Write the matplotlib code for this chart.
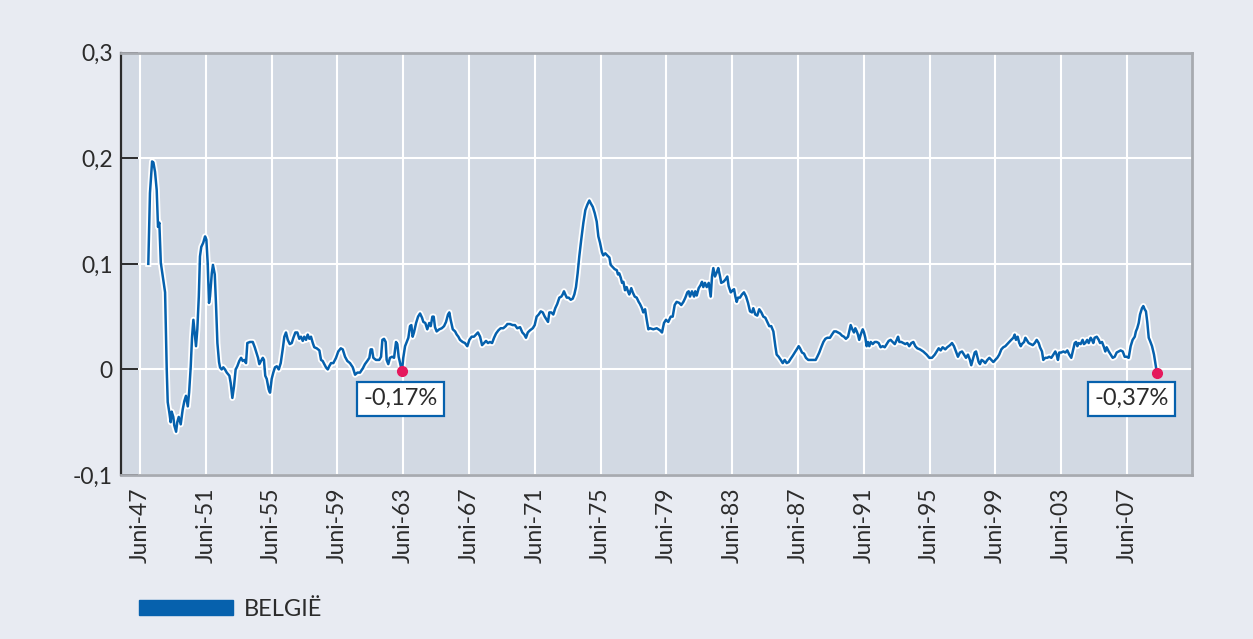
import matplotlib
matplotlib.use("Agg")
import matplotlib.pyplot as plt
import matplotlib.patheffects as pe
from matplotlib.patches import Patch

plt.rcParams['font.family'] = ['Lato', 'DejaVu Sans']

# series: decimal years (June = .417), fraction
dates = [
    1947.92, 1948.02, 1948.15, 1948.23, 1948.33, 1948.43, 1948.51, 1948.59, 1948.68, 1948.83,
    1948.94, 1949.04, 1949.10, 1949.20, 1949.28, 1949.34, 1949.44, 1949.50, 1949.61, 1949.68,
    1949.77, 1949.89, 1950.01, 1950.11, 1950.21, 1950.32, 1950.40, 1950.50, 1950.58, 1950.66,
    1950.74, 1950.82, 1950.90, 1950.99, 1951.06, 1951.14, 1951.26, 1951.37, 1951.45, 1951.53,
    1951.61, 1951.67, 1951.78, 1951.85, 1951.96, 1952.04, 1952.12, 1952.22, 1952.28, 1952.38,
    1952.48, 1952.58, 1952.69, 1952.85, 1952.93, 1953.03, 1953.13, 1953.23, 1953.33, 1953.45,
    1953.56, 1953.66, 1953.76, 1953.86, 1953.94, 1954.10, 1954.27, 1954.39, 1954.49, 1954.59,
    1954.67, 1954.77, 1954.88, 1954.95, 1955.03, 1955.12, 1955.24, 1955.32, 1955.42, 1955.52,
    1955.62, 1955.73, 1955.85, 1955.97, 1956.09, 1956.19, 1956.29, 1956.40, 1956.52, 1956.64,
    1956.74, 1956.86, 1956.98, 1957.10, 1957.20, 1957.31, 1957.40, 1957.51, 1957.61, 1957.71,
    1957.81, 1957.92, 1958.01, 1958.16, 1958.32, 1958.42, 1958.52, 1958.62, 1958.72, 1958.83,
    1958.92, 1959.03, 1959.17, 1959.33, 1959.47, 1959.62, 1959.74, 1959.88, 1960.02, 1960.18,
    1960.35, 1960.49, 1960.63, 1960.79, 1960.96, 1961.09, 1961.23, 1961.36, 1961.44, 1961.52,
    1961.60, 1961.76, 1961.96, 1962.07, 1962.15, 1962.25, 1962.35, 1962.41, 1962.51, 1962.61,
    1962.74, 1962.86, 1962.98, 1963.06, 1963.14, 1963.34, 1963.42, 1963.53, 1963.63, 1963.73,
    1963.83, 1963.91, 1963.99, 1964.07, 1964.20, 1964.32, 1964.44, 1964.56, 1964.64, 1964.76,
    1964.88, 1965.00, 1965.09, 1965.19, 1965.27, 1965.35, 1965.45, 1965.61, 1965.76, 1965.90,
    1966.02, 1966.14, 1966.22, 1966.30, 1966.43, 1966.57, 1966.67, 1966.77, 1966.87, 1967.03,
    1967.17, 1967.31, 1967.44, 1967.58, 1967.72, 1967.84, 1967.96, 1968.09, 1968.21, 1968.33,
    1968.45, 1968.57, 1968.69, 1968.82, 1968.94, 1969.06, 1969.20, 1969.34, 1969.50, 1969.65,
    1969.75, 1969.91, 1970.07, 1970.21, 1970.35, 1970.52, 1970.66, 1970.78, 1970.88, 1970.99,
    1971.12, 1971.29, 1971.41, 1971.53, 1971.65, 1971.78, 1971.90, 1972.02, 1972.14, 1972.22,
    1972.30, 1972.42, 1972.54, 1972.66, 1972.78, 1972.91, 1973.03, 1973.11, 1973.19, 1973.27,
    1973.36, 1973.48, 1973.60, 1973.72, 1973.82, 1973.92, 1974.02, 1974.12, 1974.24, 1974.37,
    1974.49, 1974.61, 1974.73, 1974.83, 1974.94, 1975.06, 1975.18, 1975.28, 1975.38, 1975.50,
    1975.58, 1975.70, 1975.82, 1975.95, 1976.03, 1976.15, 1976.27, 1976.40, 1976.47, 1976.55,
    1976.64, 1976.72, 1976.80, 1976.90, 1977.00, 1977.08, 1977.16, 1977.28, 1977.37, 1977.49,
    1977.61, 1977.73, 1977.81, 1977.93, 1978.01, 1978.12, 1978.22, 1978.32, 1978.42, 1978.62,
    1978.83, 1979.03, 1979.15, 1979.27, 1979.39, 1979.53, 1979.68, 1979.80, 1979.92, 1980.04,
    1980.20, 1980.32, 1980.45, 1980.57, 1980.69, 1980.77, 1980.85, 1980.97, 1981.10, 1981.17,
    1981.26, 1981.38, 1981.50, 1981.58, 1981.66, 1981.76, 1981.87, 1981.99, 1982.11, 1982.19,
    1982.27, 1982.37, 1982.48, 1982.57, 1982.68, 1982.75, 1982.88, 1983.00, 1983.12, 1983.20,
    1983.33, 1983.45, 1983.53, 1983.61, 1983.69, 1983.77, 1983.89, 1984.01, 1984.13, 1984.26,
    1984.38, 1984.50, 1984.62, 1984.70, 1984.82, 1984.94, 1985.06, 1985.19, 1985.31, 1985.43,
    1985.55, 1985.67, 1985.79, 1985.92, 1986.04, 1986.12, 1986.24, 1986.37, 1986.49, 1986.61,
    1986.73, 1986.85, 1986.97, 1987.10, 1987.22, 1987.34, 1987.46, 1987.54, 1987.66, 1987.78,
    1987.90, 1988.04, 1988.19, 1988.35, 1988.49, 1988.59, 1988.71, 1988.83, 1988.96, 1989.08,
    1989.20, 1989.36, 1989.48, 1989.61, 1989.73, 1989.85, 1989.97, 1990.09, 1990.21, 1990.33,
    1990.46, 1990.53, 1990.62, 1990.72, 1990.82, 1990.90, 1990.99, 1991.06, 1991.14, 1991.23,
    1991.35, 1991.43, 1991.51, 1991.59, 1991.67, 1991.75, 1991.84, 1991.96, 1992.08, 1992.20,
    1992.32, 1992.44, 1992.57, 1992.69, 1992.81, 1992.93, 1993.05, 1993.17, 1993.30, 1993.42,
    1993.50, 1993.58, 1993.70, 1993.82, 1993.94, 1994.06, 1994.18, 1994.31, 1994.43, 1994.55,
    1994.67, 1994.83, 1995.03, 1995.24, 1995.40, 1995.56, 1995.73, 1995.85, 1995.97, 1996.09,
    1996.21, 1996.37, 1996.49, 1996.66, 1996.78, 1996.90, 1997.02, 1997.14, 1997.26, 1997.39,
    1997.51, 1997.63, 1997.75, 1997.87, 1997.95, 1998.07, 1998.16, 1998.24, 1998.32, 1998.40,
    1998.48, 1998.58, 1998.68, 1998.80, 1998.93, 1999.05, 1999.17, 1999.29, 1999.41, 1999.53,
    1999.65, 1999.78, 1999.90, 2000.02, 2000.14, 2000.26, 2000.38, 2000.51, 2000.59, 2000.67,
    2000.77, 2000.87, 2000.96, 2001.03, 2001.16, 2001.24, 2001.32, 2001.44, 2001.56, 2001.69,
    2001.81, 2001.93, 2002.05, 2002.13, 2002.25, 2002.33, 2002.45, 2002.57, 2002.69, 2002.82,
    2002.94, 2003.06, 2003.14, 2003.22, 2003.30, 2003.42, 2003.55, 2003.67, 2003.79, 2003.91,
    2004.03, 2004.15, 2004.24, 2004.32, 2004.40, 2004.48, 2004.60, 2004.72, 2004.80, 2004.88,
    2005.00, 2005.09, 2005.21, 2005.29, 2005.37, 2005.45, 2005.58, 2005.70, 2005.78, 2005.90,
    2006.02, 2006.10, 2006.18, 2006.31, 2006.43, 2006.55, 2006.67, 2006.79, 2006.91, 2007.03,
    2007.16, 2007.28, 2007.40, 2007.52, 2007.64, 2007.76, 2007.89, 2007.96, 2008.04, 2008.13,
    2008.21, 2008.33, 2008.41, 2008.49, 2008.57, 2008.65, 2008.74, 2008.82, 2008.94, 2009.06,
    2009.14, 2009.24,
]
belgie = [
    0.100, 0.167, 0.197, 0.196, 0.187, 0.170, 0.135, 0.139, 0.101, 0.085,
    0.073, 0.000, -0.031, -0.041, -0.050, -0.040, -0.045, -0.053, -0.059, -0.050,
    -0.045, -0.052, -0.038, -0.030, -0.025, -0.035, -0.022, 0.003, 0.031, 0.047,
    0.035, 0.022, 0.038, 0.069, 0.107, 0.116, 0.120, 0.126, 0.123, 0.101,
    0.063, 0.069, 0.091, 0.099, 0.090, 0.060, 0.025, 0.007, 0.002, 0.000,
    0.002, 0.000, -0.003, -0.006, -0.013, -0.027, -0.016, 0.000, 0.003, 0.008,
    0.011, 0.008, 0.009, 0.006, 0.025, 0.026, 0.026, 0.021, 0.016, 0.011,
    0.005, 0.008, 0.011, 0.009, -0.006, -0.009, -0.019, -0.022, -0.009, -0.003,
    0.002, 0.003, 0.000, 0.006, 0.019, 0.031, 0.035, 0.028, 0.024, 0.025,
    0.030, 0.035, 0.035, 0.029, 0.031, 0.027, 0.031, 0.028, 0.033, 0.029,
    0.031, 0.025, 0.021, 0.020, 0.018, 0.009, 0.008, 0.005, 0.002, 0.000,
    0.003, 0.006, 0.006, 0.011, 0.017, 0.020, 0.019, 0.012, 0.008, 0.006,
    0.002, -0.005, -0.003, -0.003, 0.001, 0.005, 0.008, 0.011, 0.019, 0.019,
    0.011, 0.009, 0.009, 0.012, 0.028, 0.029, 0.026, 0.009, 0.005, 0.011,
    0.012, 0.011, 0.026, 0.024, 0.012, -0.0017, 0.011, 0.022, 0.026, 0.030,
    0.041, 0.042, 0.031, 0.035, 0.044, 0.050, 0.053, 0.049, 0.045, 0.044,
    0.038, 0.044, 0.041, 0.050, 0.050, 0.040, 0.036, 0.038, 0.039, 0.041,
    0.045, 0.052, 0.054, 0.047, 0.038, 0.036, 0.033, 0.031, 0.028, 0.026,
    0.025, 0.022, 0.028, 0.031, 0.031, 0.033, 0.035, 0.031, 0.023, 0.025,
    0.027, 0.025, 0.026, 0.025, 0.030, 0.034, 0.037, 0.039, 0.039, 0.041,
    0.043, 0.043, 0.042, 0.042, 0.039, 0.040, 0.035, 0.033, 0.030, 0.035,
    0.037, 0.039, 0.042, 0.050, 0.052, 0.055, 0.054, 0.050, 0.047, 0.045,
    0.054, 0.054, 0.052, 0.058, 0.062, 0.068, 0.069, 0.071, 0.074, 0.071,
    0.068, 0.068, 0.066, 0.067, 0.071, 0.078, 0.091, 0.107, 0.123, 0.139,
    0.151, 0.156, 0.160, 0.157, 0.154, 0.148, 0.140, 0.126, 0.120, 0.111,
    0.108, 0.110, 0.108, 0.106, 0.099, 0.097, 0.095, 0.094, 0.090, 0.091,
    0.087, 0.082, 0.083, 0.075, 0.078, 0.074, 0.071, 0.077, 0.073, 0.069,
    0.068, 0.064, 0.062, 0.058, 0.054, 0.057, 0.047, 0.038, 0.039, 0.038,
    0.039, 0.037, 0.035, 0.044, 0.047, 0.045, 0.050, 0.050, 0.061, 0.064,
    0.063, 0.061, 0.064, 0.068, 0.073, 0.074, 0.069, 0.074, 0.069, 0.074,
    0.070, 0.077, 0.080, 0.083, 0.078, 0.082, 0.078, 0.082, 0.069, 0.088,
    0.096, 0.088, 0.092, 0.096, 0.088, 0.082, 0.083, 0.085, 0.088, 0.079,
    0.073, 0.075, 0.076, 0.069, 0.064, 0.068, 0.068, 0.071, 0.073, 0.069,
    0.063, 0.055, 0.054, 0.058, 0.052, 0.051, 0.057, 0.054, 0.050, 0.049,
    0.045, 0.041, 0.041, 0.036, 0.022, 0.014, 0.012, 0.009, 0.006, 0.009,
    0.006, 0.007, 0.010, 0.013, 0.016, 0.019, 0.022, 0.020, 0.016, 0.015,
    0.011, 0.009, 0.009, 0.009, 0.009, 0.012, 0.016, 0.021, 0.026, 0.029,
    0.030, 0.030, 0.033, 0.036, 0.036, 0.035, 0.034, 0.032, 0.031, 0.029,
    0.031, 0.036, 0.042, 0.038, 0.035, 0.039, 0.036, 0.033, 0.028, 0.033,
    0.038, 0.035, 0.030, 0.022, 0.026, 0.022, 0.026, 0.024, 0.026, 0.026,
    0.025, 0.021, 0.022, 0.021, 0.024, 0.027, 0.028, 0.026, 0.024, 0.028,
    0.031, 0.026, 0.026, 0.025, 0.024, 0.025, 0.022, 0.025, 0.026, 0.022,
    0.020, 0.019, 0.017, 0.014, 0.011, 0.011, 0.014, 0.017, 0.020, 0.018,
    0.021, 0.019, 0.021, 0.023, 0.025, 0.022, 0.017, 0.012, 0.016, 0.017,
    0.014, 0.011, 0.014, 0.009, 0.004, 0.011, 0.016, 0.017, 0.012, 0.007,
    0.005, 0.009, 0.008, 0.006, 0.009, 0.011, 0.009, 0.007, 0.009, 0.011,
    0.014, 0.019, 0.021, 0.022, 0.024, 0.026, 0.028, 0.030, 0.033, 0.028,
    0.031, 0.025, 0.022, 0.024, 0.026, 0.030, 0.028, 0.025, 0.024, 0.023,
    0.025, 0.028, 0.025, 0.021, 0.017, 0.009, 0.011, 0.011, 0.012, 0.011,
    0.014, 0.017, 0.014, 0.009, 0.016, 0.016, 0.017, 0.016, 0.018, 0.014,
    0.011, 0.019, 0.025, 0.026, 0.022, 0.025, 0.024, 0.028, 0.024, 0.025,
    0.028, 0.025, 0.030, 0.028, 0.025, 0.030, 0.031, 0.028, 0.025, 0.026,
    0.021, 0.017, 0.021, 0.017, 0.014, 0.011, 0.012, 0.016, 0.017, 0.018,
    0.017, 0.012, 0.012, 0.011, 0.022, 0.028, 0.031, 0.036, 0.039, 0.044,
    0.052, 0.058, 0.060, 0.057, 0.055, 0.045, 0.030, 0.027, 0.022, 0.014,
    0.006, -0.0037,
]

# highlighted points
mark_dates = [1963.34, 2009.24]
mark_values = [-0.0017, -0.0037]
mark_labels = ['-0,17%', '-0,37%']
mark_offsets = [(-1.5, -27.5), (-25.5, -25.5)]   # label box offset, pixels

tick_years = list(range(1947, 2008, 4))
tick_pos = [y + 5 / 12 for y in tick_years]
tick_labels = [f'Juni-{y % 100:02d}' for y in tick_years]
y_ticks = [-0.1, 0, 0.1, 0.2, 0.3]
y_labels = ['-0,1', '0', '0,1', '0,2', '0,3']

blue = '#0661ad'
red = '#e5185c'
dark = '#2b2b2b'

fig = plt.figure(figsize=(12.53, 6.39), dpi=100, facecolor='#e8ebf2')
ax = fig.add_axes([121 / 1253, 1 - 475 / 639, 1071 / 1253, 422.3 / 639])
ax.set_facecolor('#d2d9e3')

ax.plot(dates, belgie, color=blue, lw=1.8, zorder=3, solid_joinstyle='round',
        path_effects=[pe.Stroke(linewidth=4.4, foreground='white'), pe.Normal()])
ax.plot(mark_dates, mark_values, 'o', color=red, ms=7, zorder=4)

for d, v, lab, off in zip(mark_dates, mark_values, mark_labels, mark_offsets):
    ax.annotate(lab, xy=(d, v), xytext=off, textcoords='offset pixels',
                ha='center', va='center', fontsize=17, color=dark, zorder=5,
                bbox=dict(boxstyle='square,pad=0.28', fc='white', ec=blue, lw=1.6))

ax.set_xlim(1946.26, 2011.37)
ax.set_ylim(-0.1, 0.3)
ax.set_xticks(tick_pos)
ax.set_xticklabels(tick_labels, rotation=90)
ax.set_yticks(y_ticks)
ax.set_yticklabels(y_labels)

ax.grid(True, color='white', lw=1.5)
ax.set_axisbelow(True)

ax.tick_params(axis='x', length=0, pad=9, labelsize=16.5, labelcolor=dark)
ax.tick_params(axis='y', direction='in', length=12.5, width=1.4, color=dark,
               pad=6, labelsize=16.5, labelcolor=dark)

for side in ['top', 'right', 'bottom']:
    ax.spines[side].set_color('#a7aab0')
    ax.spines[side].set_linewidth(2)
ax.spines['left'].set_color(dark)
ax.spines['left'].set_linewidth(1.6)

fig.legend(handles=[Patch(color=blue, label='BELGIË')], loc='center left',
           bbox_to_anchor=(139 / 1253, 1 - 609 / 639), frameon=False,
           fontsize=17, handlelength=3.98, handleheight=0.59, handletextpad=0.47,
           borderpad=0, borderaxespad=0, labelcolor=dark)

fig.savefig('out.png', dpi=100, facecolor=fig.get_facecolor())
